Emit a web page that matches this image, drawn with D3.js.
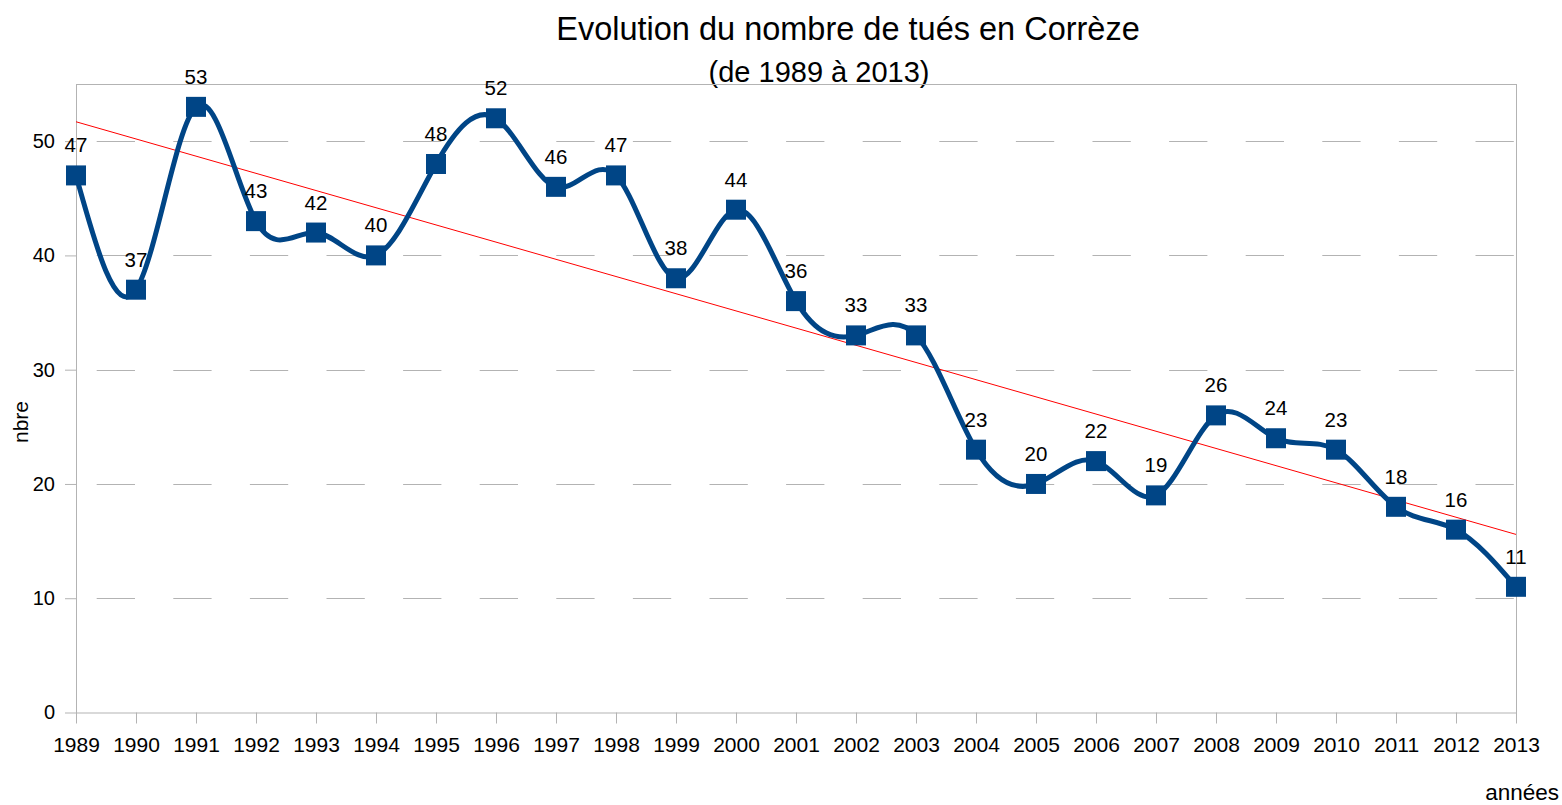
<!DOCTYPE html>
<html>
<head>
<meta charset="utf-8">
<script src="https://cdn.jsdelivr.net/npm/d3@7"></script>
<style>
	body { margin: 0; background: #fff; }
	svg text { font-family: "Liberation Sans", Arial, sans-serif; fill: #000; }
	.grid line { stroke: #b3b3b3; stroke-width: 1; stroke-dasharray: 38.3 38.3; stroke-dashoffset: 55.9; }
	.axis path, .axis line { stroke: #b3b3b3; }
</style>
</head>
<body>
<div id="chart"></div>
<script>
const years    = ['1989','1990','1991','1992','1993','1994','1995','1996','1997','1998','1999','2000','2001',
                  '2002','2003','2004','2005','2006','2007','2008','2009','2010','2011','2012','2013'];
const tues     = [47, 37, 53, 43, 42, 40, 48, 52, 46, 47, 38, 44, 36, 33, 33, 23, 20, 22, 19, 26, 24, 23, 18, 16, 11];
const yTicks   = [0, 10, 20, 30, 40, 50];
const yDomain  = [0, 55];

let canvasWidth  = 1562;
let canvasHeight = 805;
let margin       = { top: 84, right: 46, bottom: 92.5, left: 76 };
let width        = canvasWidth - margin.left - margin.right;
let height       = canvasHeight - margin.top - margin.bottom;

let x = d3.scalePoint().domain(years).range([0, width]);
let y = d3.scaleLinear().domain(yDomain).range([height, 0]);

let root = d3.select('#chart').append('svg')
		.attr('width', canvasWidth)
		.attr('height', canvasHeight);

root.append('text')
	.attr('x', 848).attr('y', 40)
	.attr('text-anchor', 'middle')
	.style('font-size', '32.5px')
	.text('Evolution du nombre de tués en Corrèze');

root.append('text')
	.attr('x', 819).attr('y', 82)
	.attr('text-anchor', 'middle')
	.style('font-size', '29px')
	.text('(de 1989 à 2013)');

let svg = root.append('g')
		.attr('transform', 'translate(' + margin.left + ',' + margin.top + ')');

// dashed horizontal grid
svg.append('g').attr('class', 'grid')
	.selectAll('line')
	.data(yTicks.filter((v) => v > 0))
	.enter().append('line')
		.attr('x1', 0).attr('x2', width)
		.attr('y1', (v) => Math.round(y(v)) + 0.5)
		.attr('y2', (v) => Math.round(y(v)) + 0.5);

// frame
svg.append('rect')
	.attr('x', 0.5).attr('y', 0.5)
	.attr('width', width).attr('height', height)
	.attr('fill', 'none').attr('stroke', '#b3b3b3');

let xAxis = svg.append('g')
	.attr('class', 'axis')
	.attr('transform', 'translate(0,' + height + ')')
	.call(d3.axisBottom(x).tickSize(11).tickSizeOuter(0).tickPadding(14));
xAxis.select('.domain').remove();
xAxis.selectAll('text').style('font-size', '21px');

let yAxis = svg.append('g')
	.attr('class', 'axis')
	.call(d3.axisLeft(y).tickValues(yTicks).tickSize(11).tickSizeOuter(0).tickPadding(10));
yAxis.select('.domain').remove();
yAxis.selectAll('text').style('font-size', '20px');

// linear trend (least squares on the data)
let idx   = tues.map((v, i) => i);
let mx    = d3.mean(idx);
let my    = d3.mean(tues);
let slope = d3.sum(idx, (i) => (i - mx) * (tues[i] - my)) / d3.sum(idx, (i) => (i - mx) * (i - mx));
let icpt  = my - slope * mx;

svg.append('line')
	.attr('x1', x(years[0])).attr('y1', y(icpt))
	.attr('x2', x(years[years.length - 1])).attr('y2', y(icpt + slope * (years.length - 1)))
	.attr('stroke', '#ff0000').attr('stroke-width', 1);

let line = d3.line()
	.x((d, i) => x(years[i]))
	.y((d) => y(d))
	.curve(d3.curveNatural);

svg.append('path')
	.datum(tues)
	.attr('d', line)
	.attr('fill', 'none')
	.attr('stroke', '#004586')
	.attr('stroke-width', 5);

svg.selectAll('.marker')
		.data(tues)
	.enter().append('rect')
		.attr('class', 'marker')
		.attr('x', (d, i) => x(years[i]) - 10)
		.attr('y', (d) => y(d) - 10)
		.attr('width', 20).attr('height', 20)
		.attr('fill', '#004586');

svg.selectAll('.val')
		.data(tues)
	.enter().append('text')
		.attr('class', 'val')
		.attr('x', (d, i) => x(years[i]))
		.attr('y', (d) => y(d) - 23)
		.attr('text-anchor', 'middle')
		.style('font-size', '20.5px')
		.text((d) => d);

root.append('text')
	.attr('transform', 'translate(28,' + 422 + ') rotate(-90)')
	.attr('text-anchor', 'middle')
	.style('font-size', '21px')
	.text('nbre');

root.append('text')
	.attr('x', 1559).attr('y', 800)
	.attr('text-anchor', 'end')
	.style('font-size', '22.5px')
	.text('années');
</script>
</body>
</html>
